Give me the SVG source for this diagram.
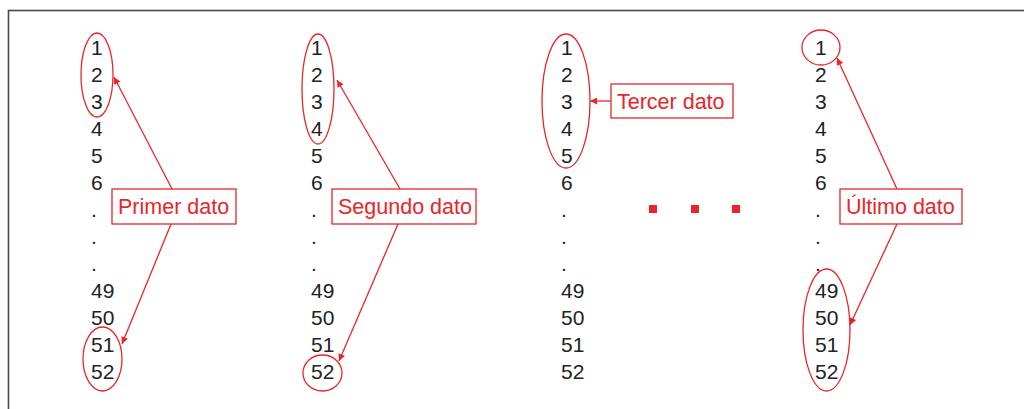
<svg xmlns="http://www.w3.org/2000/svg" width="1024" height="409" viewBox="0 0 1024 409">
  <style>
    .num { font-family: "Liberation Sans", Arial, sans-serif; font-size: 21px; fill: #222; }
    .lbl { font-family: "Liberation Sans", Arial, sans-serif; font-size: 21.5px; fill: #e8262a; }
    .box { fill: #fff; stroke: #e8262a; stroke-width: 1.3; }
    .ring { fill: none; stroke: #e8262a; stroke-width: 1.3; }
    .link { fill: none; stroke: #e8262a; stroke-width: 1.3; marker-end: url(#tip); }
    .sq { fill: #e8262a; }
  </style>
  <defs>
    <marker id="tip" viewBox="0 0 10 10" refX="10" refY="5" markerWidth="8" markerHeight="7" markerUnits="userSpaceOnUse" orient="auto">
      <path d="M0,0 L10,5 L0,10 z" fill="#e8262a"/>
    </marker>
    <!-- one column of indices 1..6, three dots, 49..52 -->
    <g id="column">
      <text class="num" x="0" y="55">1</text>
      <text class="num" x="0" y="82">2</text>
      <text class="num" x="0" y="109">3</text>
      <text class="num" x="0" y="136">4</text>
      <text class="num" x="0" y="163">5</text>
      <text class="num" x="0" y="190">6</text>
      <text class="num" x="0" y="217">.</text>
      <text class="num" x="0" y="244">.</text>
      <text class="num" x="0" y="271">.</text>
      <text class="num" x="0" y="298">49</text>
      <text class="num" x="0" y="325">50</text>
      <text class="num" x="0" y="352">51</text>
      <text class="num" x="0" y="379">52</text>
    </g>
  </defs>

  <rect width="1024" height="409" fill="#fff"/>
  <!-- outer frame, running past the right and bottom edges -->
  <rect x="8.5" y="10.5" width="1030" height="420" fill="none" stroke="#4a4a4a" stroke-width="1.6"/>

  <g id="col-primer">
    <use href="#column" x="91"/>
    <ellipse class="ring" cx="97" cy="75" rx="16" ry="42"/>
    <ellipse class="ring" cx="102.5" cy="359" rx="19.5" ry="32"/>
  </g>
  <g id="col-segundo">
    <use href="#column" x="311"/>
    <ellipse class="ring" cx="318" cy="89" rx="16" ry="55"/>
    <ellipse class="ring" cx="322.5" cy="373" rx="19.5" ry="18"/>
  </g>
  <g id="col-tercer">
    <use href="#column" x="561"/>
    <ellipse class="ring" cx="566" cy="101" rx="24" ry="67"/>
  </g>
  <g id="col-ultimo">
    <use href="#column" x="815"/>
    <ellipse class="ring" cx="821" cy="47.5" rx="19" ry="17.5"/>
    <ellipse class="ring" cx="826.5" cy="330" rx="23.5" ry="61"/>
  </g>

  <g id="connectors">
    <line class="link" x1="172" y1="189" x2="114" y2="77"/>
    <line class="link" x1="171" y1="224" x2="122" y2="344"/>
    <line class="link" x1="400" y1="189" x2="337" y2="80"/>
    <line class="link" x1="398" y1="224" x2="339" y2="361"/>
    <line class="link" x1="611" y1="101" x2="590" y2="101"/>
    <line class="link" x1="897" y1="189" x2="837" y2="58"/>
    <line class="link" x1="897" y1="224" x2="850" y2="325"/>
  </g>

  <g id="label-primer">
    <rect class="box" x="112" y="189" width="124" height="35"/>
    <text class="lbl" x="118" y="213.5">Primer dato</text>
  </g>
  <g id="label-segundo">
    <rect class="box" x="332" y="189" width="144" height="35"/>
    <text class="lbl" x="338" y="213.5">Segundo dato</text>
  </g>
  <g id="label-tercer">
    <rect class="box" x="611" y="84" width="122" height="34"/>
    <text class="lbl" x="617" y="109">Tercer dato</text>
  </g>
  <g id="label-ultimo">
    <rect class="box" x="840" y="189" width="122" height="35"/>
    <text class="lbl" x="846" y="213.5">Último dato</text>
  </g>

  <g id="ellipsis">
    <rect class="sq" x="649" y="205" width="8" height="8"/>
    <rect class="sq" x="691" y="205" width="8" height="8"/>
    <rect class="sq" x="732" y="205" width="8" height="8"/>
  </g>
</svg>
